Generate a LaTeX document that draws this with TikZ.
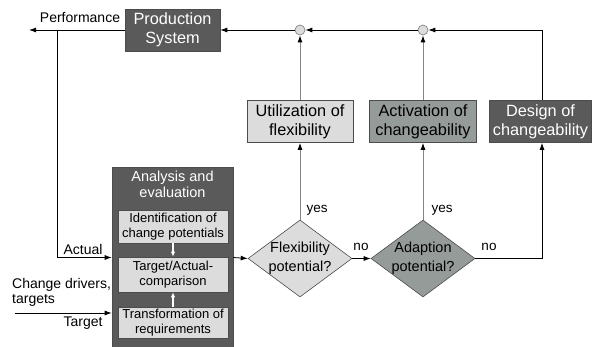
\documentclass[tikz,border=0pt]{standalone}
\usepackage{fontspec}
\setmainfont{Liberation Sans}
\usetikzlibrary{shapes.geometric,arrows.meta}
\definecolor{dk}{HTML}{5A5A5A}
\definecolor{md}{HTML}{959B98}
\definecolor{lt}{HTML}{DCDCDC}
\definecolor{ln}{HTML}{858585}
\begin{document}
\begin{tikzpicture}[x=1pt,y=-1pt,
  >={Latex[length=7pt,width=5pt,color=black]},
  box/.style={draw=black!70, line width=0.6pt, align=center, inner sep=0pt, font=\fontsize{16.3}{19}\selectfont},
  darkbox/.style={box, fill=dk, text=white},
  midbox/.style={box, fill=md, text=black},
  lightbox/.style={box, fill=lt, text=black},
  inbox/.style={draw=black!70, line width=0.6pt, fill=lt, align=center, inner sep=0pt, minimum width=110pt, minimum height=33pt, font=\fontsize{13}{15}\selectfont},
  dec/.style={diamond, draw=black!70, line width=0.6pt, inner sep=0pt, minimum width=104pt, minimum height=77pt},
  sum/.style={circle, draw=ln, fill=lt, line width=0.7pt, inner sep=0pt, minimum size=10pt},
  lbl/.style={font=\fontsize{14}{16}\selectfont, inner sep=0pt},
  conn/.style={line width=0.8pt, black},
  gconn/.style={line width=1pt, ln}
]
\useasboundingbox (0,0) rectangle (594,347);

% top row
\node[darkbox, minimum width=95pt, minimum height=42pt] (prod) at (172.5,30) {Production\\System};
\node[sum] (c1) at (300,30) {};
\node[sum] (c2) at (423,30) {};

% action boxes
\node[lightbox, minimum width=106pt, minimum height=42pt] (util) at (300,121.5) {Utilization of\\flexibility};
\node[midbox, minimum width=107pt, minimum height=42pt] (act) at (423,121.5) {Activation of\\changeability};
\node[darkbox, minimum width=102pt, minimum height=42pt] (des) at (540.5,121.5) {Design of\\changeability};

% analysis
\node[draw=black!70, fill=dk, line width=0.6pt, minimum width=121pt, minimum height=181pt, inner sep=0pt] (ana) at (172.5,257.5) {};
\node[text=white, align=center, font=\fontsize{14.5}{16}\selectfont, inner sep=0pt] (anat) at (172.5,184) {Analysis and\\evaluation};
\node[inbox] (ident) at (173,226.5) {Identification of\\change potentials};
\node[inbox, minimum height=35pt] (cmp) at (173,274.5) {Target/Actual-\\comparison};
\node[inbox, minimum height=31pt] (trans) at (173,322.5) {Transformation of\\requirements};
\draw[white, line width=1.2pt, -{Latex[length=5pt,width=4.5pt,color=white]}] (ident.south) -- (cmp.north);
\draw[white, line width=1.2pt, -{Latex[length=5pt,width=4.5pt,color=white]}] (trans.north) -- (cmp.south);

% decisions
\node[dec, fill=lt] (d1) at (300,258.5) {};
\node[lbl, align=center, font=\fontsize{14.5}{19}\selectfont] (d1t) at (300,258.5) {Flexibility\\potential?};
\node[dec, fill=md] (d2) at (423,258.5) {};
\node[lbl, align=center, font=\fontsize{14.5}{19}\selectfont] (d2t) at (423,258.5) {Adaption\\potential?};

% coordinates
\coordinate (pout) at (29,30);
\coordinate (br) at (57,30);
\coordinate (tin) at (15,313);
\coordinate (dx) at (542,30);

% connectors
\draw[conn,->] (prod.west) -- (pout);
\draw[conn,->] (br) |- (ana.west);
\draw[conn,->] (tin) -- (tin -| ana.west);
\draw[conn,->] (ana.east) -- (d1.west);
\draw[conn,->] (d1.east) -- (d2.west);
\draw[gconn,->] (d1.north) -- (util.south);
\draw[gconn,->] (d2.north) -- (act.south);
\draw[gconn,->] (util.north) -- (c1.south);
\draw[gconn,->] (act.north) -- (c2.south);
\draw[conn,->] (d2.east) -| (des.south -| dx);
\draw[conn,->] (des.north -| dx) -- (dx) -- (c2.east);
\draw[conn,->] (c2.west) -- (c1.east);
\draw[conn,->] (c1.west) -- (prod.east);

% labels
\node[lbl] (lperf) at (80,18) {Performance};
\node[lbl] (lact) at (83,249) {Actual};
\node[lbl, anchor=west] (lchg) at (12,285) {Change drivers,};
\node[lbl, anchor=west] (ltgs) at (12,300) {targets};
\node[lbl] (ltgt) at (83,323) {Target};
\node[lbl, font=\fontsize{13.5}{16}\selectfont] (y1) at (317,210) {yes};
\node[lbl, font=\fontsize{13.5}{16}\selectfont] (y2) at (442,210) {yes};
\node[lbl, font=\fontsize{13.5}{16}\selectfont] (n1) at (361,247) {no};
\node[lbl, font=\fontsize{13.5}{16}\selectfont] (n2) at (489,247) {no};
\end{tikzpicture}
\end{document}
